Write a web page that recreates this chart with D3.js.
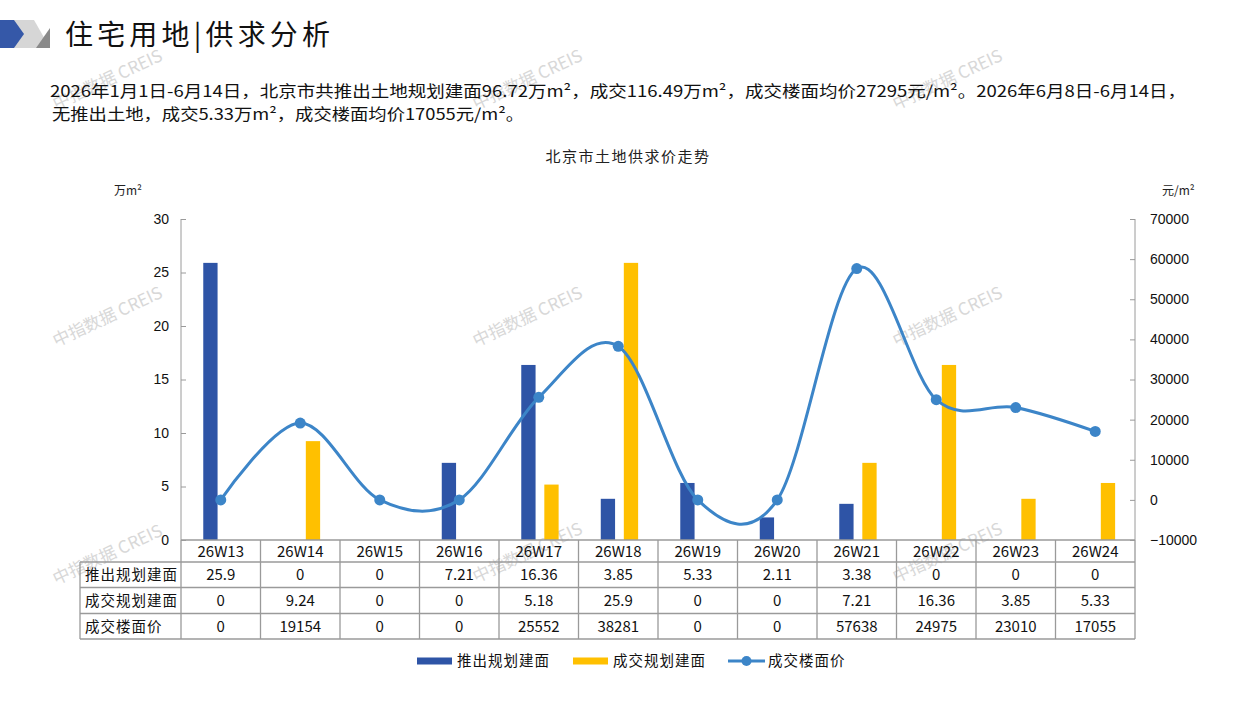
<!DOCTYPE html>
<html>
<head>
<meta charset="utf-8">
<script src="https://cdn.jsdelivr.net/npm/d3@7"></script>
<style>
  body { margin: 0; background: #fff; }
  svg { display: block; }
  .cn { font-family: "Noto Sans CJK SC", sans-serif; }
  .num { font-family: "Liberation Sans", Arial, sans-serif; }
</style>
</head>
<body>
<div id="wrapper"></div>
<script>
// weeks shown along the bottom
const weeks = ["26W13", "26W14", "26W15", "26W16", "26W17", "26W18", "26W19", "26W20", "26W21", "26W22", "26W23", "26W24"];
// 推出规划建面 (万m²)
const supplyArea = [25.9, 0, 0, 7.21, 16.36, 3.85, 5.33, 2.11, 3.38, 0, 0, 0];
// 成交规划建面 (万m²)
const dealArea = [0, 9.24, 0, 0, 5.18, 25.9, 0, 0, 7.21, 16.36, 3.85, 5.33];
// 成交楼面价 (元/m²)
const dealPrice = [0, 19154, 0, 0, 25552, 38281, 0, 0, 57638, 24975, 23010, 17055];

const leftTicks = [0, 5, 10, 15, 20, 25, 30];
const rightTicks = [-10000, 0, 10000, 20000, 30000, 40000, 50000, 60000, 70000];
const seriesNames = ["推出规划建面", "成交规划建面", "成交楼面价"];

const colors = { supply: "#2E54A6", deal: "#FFC000", price: "#3C85C8", grid: "#9a9a9a" };

let dimensions = {
  width: 1257,
  height: 706,
  plot: { left: 181, right: 1135, top: 219, bottom: 540 },
  rowH: [22, 25.5, 26, 25.5],
  labelLeft: 80,
}

const svg = d3.select("#wrapper")
  .append("svg")
    .attr("width", dimensions.width)
    .attr("height", dimensions.height)

// watermarks
const marks = [[110, 85], [530, 85], [950, 85], [110, 322], [530, 322], [950, 322], [110, 560], [530, 558], [950, 558]];
svg.append("g").selectAll("text")
  .data(marks)
  .join("text")
    .attr("class", "cn")
    .attr("transform", d => `translate(${d[0]},${d[1]}) rotate(-25)`)
    .attr("text-anchor", "middle")
    .attr("font-size", 17)
    .attr("fill", "#d8d8d8")
    .text("中指数据 CREIS")

// header icon
const icon = svg.append("g")
icon.append("polygon").attr("points", "0,20 34,20 50,48 0,48").attr("fill", "#d6d6d6")
icon.append("polygon").attr("points", "0,20 14,20 24,34 14,48 0,48").attr("fill", "#3558a8")
icon.append("polygon").attr("points", "50,28 50,48 36,48").attr("fill", "#8a8a8a")

svg.append("text")
  .attr("class", "cn")
  .attr("x", 65).attr("y", 45)
  .attr("font-size", 28)
  .attr("textLength", 265)
  .attr("lengthAdjust", "spacing")
  .attr("fill", "#111")
  .text("住宅用地|供求分析")

svg.append("text")
  .attr("class", "cn")
  .attr("x", 50).attr("y", 97)
  .attr("font-size", 16)
  .attr("textLength", 1136)
  .attr("lengthAdjust", "spacingAndGlyphs")
  .attr("fill", "#111")
  .text("2026年1月1日-6月14日，北京市共推出土地规划建面96.72万m²，成交116.49万m²，成交楼面均价27295元/m²。2026年6月8日-6月14日，")

svg.append("text")
  .attr("class", "cn")
  .attr("x", 52).attr("y", 120)
  .attr("font-size", 16)
  .attr("textLength", 472)
  .attr("lengthAdjust", "spacingAndGlyphs")
  .attr("fill", "#111")
  .text("无推出土地，成交5.33万m²，成交楼面均价17055元/m²。")

svg.append("text")
  .attr("class", "cn")
  .attr("x", 628).attr("y", 162)
  .attr("text-anchor", "middle")
  .attr("font-size", 15)
  .attr("letter-spacing", 1.5)
  .attr("fill", "#222")
  .text("北京市土地供求价走势")

svg.append("text").attr("class", "cn")
  .attr("x", 114).attr("y", 195).attr("font-size", 12).attr("fill", "#222")
  .text("万m²")
svg.append("text").attr("class", "cn")
  .attr("x", 1162).attr("y", 195).attr("font-size", 12).attr("fill", "#222")
  .text("元/m²")

// scales
const p = dimensions.plot
const xScale = d3.scaleBand()
  .domain(weeks)
  .range([p.left, p.right])
const bw = xScale.bandwidth()

const yScale = d3.scaleLinear()
  .domain([0, 30])
  .range([p.bottom, p.top])

const y2Scale = d3.scaleLinear()
  .domain([-10000, 70000])
  .range([p.bottom, p.top])

// bars
svg.append("g").selectAll("rect")
  .data(weeks)
  .join("rect")
    .attr("x", d => xScale(d) + bw * 0.28)
    .attr("width", bw * 0.18)
    .attr("y", (d, i) => yScale(supplyArea[i]))
    .attr("height", (d, i) => yScale(0) - yScale(supplyArea[i]))
    .attr("fill", colors.supply)

svg.append("g").selectAll("rect")
  .data(weeks)
  .join("rect")
    .attr("x", d => xScale(d) + bw * 0.57)
    .attr("width", bw * 0.18)
    .attr("y", (d, i) => yScale(dealArea[i]))
    .attr("height", (d, i) => yScale(0) - yScale(dealArea[i]))
    .attr("fill", colors.deal)

// axes
const yAxis = svg.append("g")
  .attr("transform", `translate(${p.left},0)`)
  .call(d3.axisLeft(yScale).tickValues(leftTicks).tickSize(-5).tickPadding(12))
yAxis.select(".domain").attr("stroke", colors.grid).attr("d", `M-0,${p.bottom}V${p.top}`)
yAxis.selectAll(".tick line").attr("stroke", colors.grid)
yAxis.selectAll(".tick text")
  .attr("class", "num")
  .attr("font-size", 14)
  .attr("fill", "#111")

const y2Axis = svg.append("g")
  .attr("transform", `translate(${p.right},0)`)
  .call(d3.axisRight(y2Scale).tickValues(rightTicks).tickSize(-5).tickPadding(15).tickFormat(d3.format("d")))
y2Axis.select(".domain").attr("stroke", colors.grid).attr("d", `M0,${p.bottom}V${p.top}`)
y2Axis.selectAll(".tick line").attr("stroke", colors.grid)
y2Axis.selectAll(".tick text")
  .attr("class", "num")
  .attr("font-size", 14)
  .attr("fill", "#111")

// price line
const lineGenerator = d3.line()
  .x((d, i) => xScale(weeks[i]) + bw / 2)
  .y(d => y2Scale(d))
  .curve(d3.curveCardinal.tension(0))

svg.append("path")
  .attr("d", lineGenerator(dealPrice))
  .attr("fill", "none")
  .attr("stroke", colors.price)
  .attr("stroke-width", 3)

svg.append("g").selectAll("circle")
  .data(dealPrice)
  .join("circle")
    .attr("cx", (d, i) => xScale(weeks[i]) + bw / 2)
    .attr("cy", d => y2Scale(d))
    .attr("r", 5.5)
    .attr("fill", colors.price)

// data table
const rows = [
  weeks,
  supplyArea.map(String),
  dealArea.map(String),
  dealPrice.map(String),
]
const rowY = [p.bottom]
dimensions.rowH.forEach(h => rowY.push(rowY[rowY.length - 1] + h))

const table = svg.append("g")
rowY.forEach((y, r) => {
  table.append("line")
    .attr("x1", r === 0 ? p.left : dimensions.labelLeft).attr("x2", p.right)
    .attr("y1", y).attr("y2", y)
    .attr("stroke", colors.grid).attr("stroke-width", 1.3)
})
weeks.concat(["end"]).forEach((w, i) => {
  const x = i < weeks.length ? xScale(w) : p.right
  table.append("line")
    .attr("x1", x).attr("x2", x)
    .attr("y1", p.bottom).attr("y2", rowY[4])
    .attr("stroke", colors.grid).attr("stroke-width", 1.3)
})
table.append("line")
  .attr("x1", dimensions.labelLeft).attr("x2", dimensions.labelLeft)
  .attr("y1", rowY[1]).attr("y2", rowY[4])
  .attr("stroke", colors.grid).attr("stroke-width", 1.3)

rows.forEach((vals, r) => {
  table.append("g").selectAll("text")
    .data(vals)
    .join("text")
      .attr("class", "cn")
      .attr("x", (d, i) => xScale(weeks[i]) + bw / 2)
      .attr("y", (rowY[r] + rowY[r + 1]) / 2 + 5.5)
      .attr("text-anchor", "middle")
      .attr("font-size", 15)
      .attr("fill", "#111")
      .text(d => d)
})
seriesNames.forEach((name, r) => {
  table.append("text")
    .attr("class", "cn")
    .attr("x", 85)
    .attr("y", (rowY[r + 1] + rowY[r + 2]) / 2 + 5.5)
    .attr("font-size", 14.5)
    .attr("letter-spacing", 1)
    .attr("fill", "#111")
    .text(name)
})

// legend
const legend = svg.append("g").attr("transform", "translate(0,661)")
const legendX = [417, 573, 728]
seriesNames.forEach((name, i) => {
  const g = legend.append("g").attr("transform", `translate(${legendX[i]},0)`)
  if (i < 2) {
    g.append("rect")
      .attr("x", 0).attr("y", -3.5).attr("width", 35).attr("height", 7)
      .attr("fill", i === 0 ? colors.supply : colors.deal)
  } else {
    g.append("line").attr("x1", 0).attr("x2", 37).attr("y1", 0).attr("y2", 0)
      .attr("stroke", colors.price).attr("stroke-width", 3)
    g.append("circle").attr("cx", 18.5).attr("cy", 0).attr("r", 5).attr("fill", colors.price)
  }
  g.append("text")
    .attr("class", "cn")
    .attr("x", 40)
    .attr("y", 5)
    .attr("font-size", 14.5)
    .attr("letter-spacing", 1)
    .attr("fill", "#111")
    .text(name)
})
</script>
</body>
</html>
